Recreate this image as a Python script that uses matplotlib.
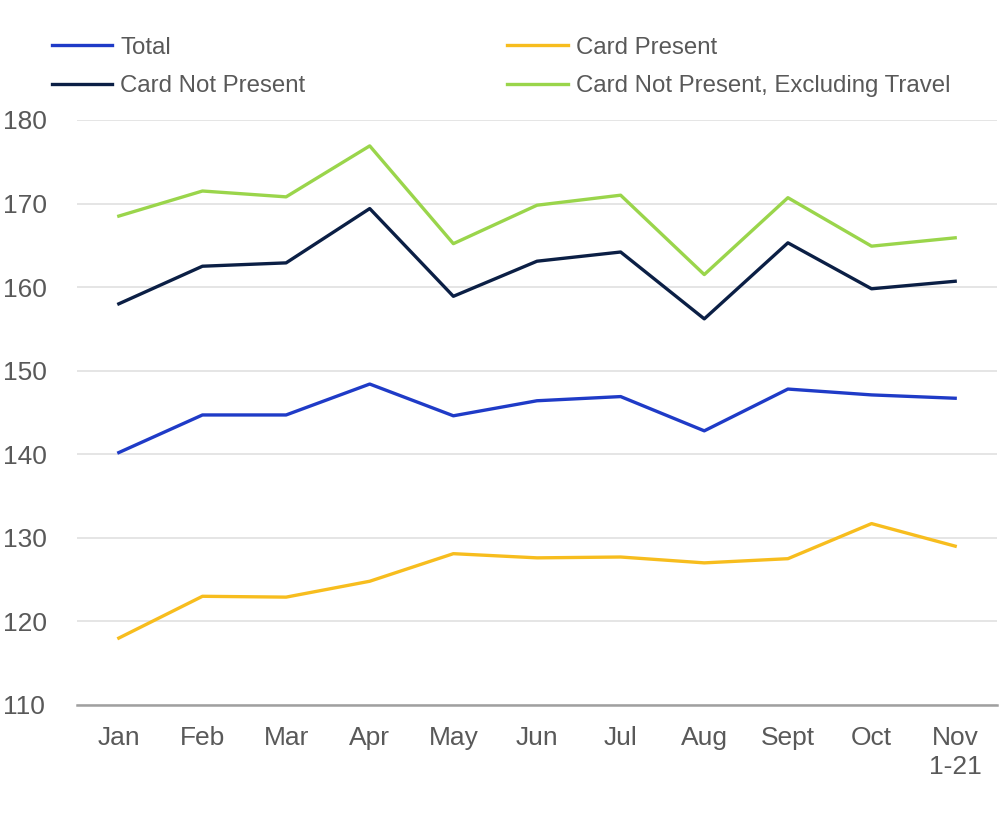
import matplotlib
matplotlib.use("Agg")
import matplotlib.pyplot as plt

months = ["Jan", "Feb", "Mar", "Apr", "May", "Jun", "Jul", "Aug", "Sept", "Oct", "Nov\n1-21"]

total = [140.2, 144.7, 144.7, 148.4, 144.6, 146.4, 146.9, 142.8, 147.8, 147.1, 146.7]
card_present = [118.0, 123.0, 122.9, 124.8, 128.1, 127.6, 127.7, 127.0, 127.5, 131.7, 129.0]
card_not_present = [158.0, 162.5, 162.9, 169.4, 158.9, 163.1, 164.2, 156.2, 165.3, 159.8, 160.7]
cnp_ex_travel = [168.5, 171.5, 170.8, 176.9, 165.2, 169.8, 171.0, 161.5, 170.7, 164.9, 165.9]

yticks = [110, 120, 130, 140, 150, 160, 170, 180]

plt.rcParams["font.family"] = ["Liberation Sans", "DejaVu Sans"]
TXT = "#595959"

fig = plt.figure(figsize=(10, 8.14), dpi=100)
ax = fig.add_axes([0.077, 0.134, 0.92, 0.7186])

x = range(len(months))
l_total, = ax.plot(x, total, color="#1f3bc7", lw=2.4, label="Total")
l_cp, = ax.plot(x, card_present, color="#f7bd1e", lw=2.4, label="Card Present")
l_cnp, = ax.plot(x, card_not_present, color="#0b1f45", lw=2.4, label="Card Not Present")
l_ex, = ax.plot(x, cnp_ex_travel, color="#9ad54b", lw=2.4, label="Card Not Present, Excluding Travel")

ax.set_xlim(-0.5, len(months) - 0.5)
ax.set_ylim(110, 180)
ax.set_yticks(yticks)
ax.set_xticks(list(x))
ax.set_xticklabels(months, linespacing=1.25)
ax.grid(axis="y", color="#e0e0e0", lw=1.2)
ax.set_axisbelow(True)
for s in ["top", "right", "left"]:
    ax.spines[s].set_visible(False)
ax.spines["bottom"].set_color("#a0a0a0")
ax.spines["bottom"].set_linewidth(1.8)
ax.tick_params(axis="both", length=0, labelsize=19, colors=TXT)
ax.tick_params(axis="x", pad=15)
ax.tick_params(axis="y", pad=53)
for lab in ax.get_yticklabels():
    lab.set_horizontalalignment("left")

leg = fig.legend(handles=[l_total, l_cnp, l_cp, l_ex], ncol=2, loc="upper left",
                 bbox_to_anchor=(0.052, 0.955), frameon=False, fontsize=17.3,
                 borderpad=0, borderaxespad=0,
                 handlelength=2.5, handletextpad=0.35, columnspacing=8.4,
                 labelspacing=0.68)
for t in leg.get_texts():
    t.set_color(TXT)

fig.savefig("out.png", dpi=100)
